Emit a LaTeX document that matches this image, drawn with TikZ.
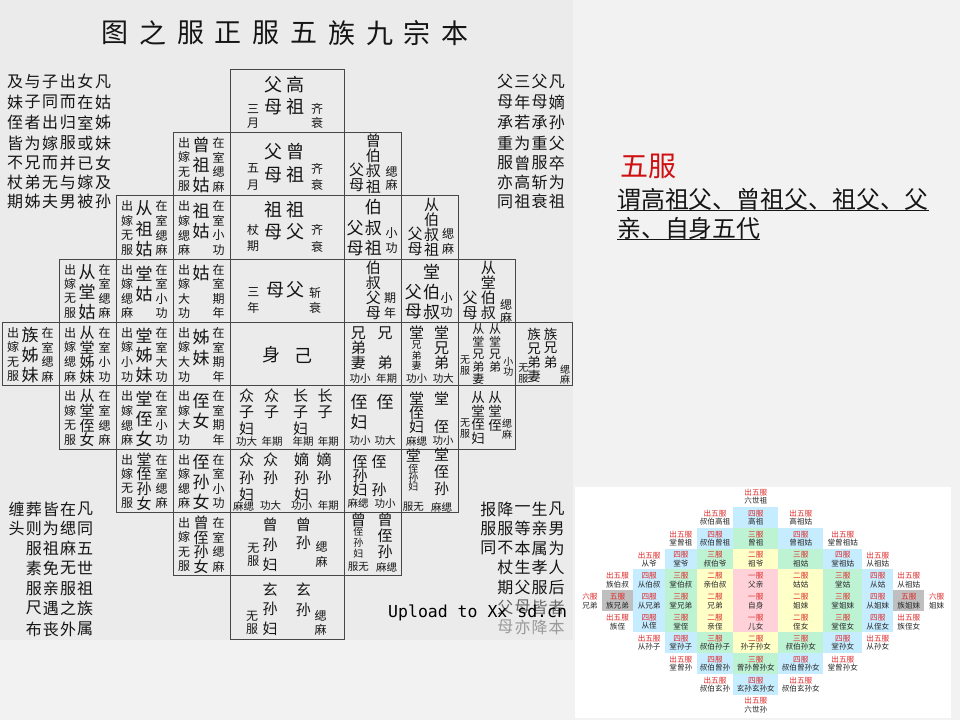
\documentclass[tikz,border=0pt]{standalone}
\usepackage{fontspec}
\setmainfont{Noto Sans CJK SC}
\newfontfamily\wmfont{DejaVu Sans Mono}
\definecolor{pagebg}{HTML}{F2F2F2}
\definecolor{imgbg}{HTML}{EBEBEB}
\definecolor{ink}{HTML}{151515}
\definecolor{cpink}{HTML}{FFD2DA}
\definecolor{cyel}{HTML}{FFFFC8}
\definecolor{cgrn}{HTML}{BDF2D3}
\definecolor{cblu}{HTML}{C6ECFF}
\definecolor{cgry}{HTML}{BFBFBF}
\definecolor{cred}{HTML}{E02828}
\definecolor{wuf}{HTML}{D01010}
\makeatletter
\newcommand\seqn[6]{\tikzset{curst/.style={#5}}\def\sqx{#1}\def\sqy{#2}\def\sqdx{#3}\def\sqdy{#4}\sq@loop#6\@nil}
\def\sq@loop#1#2\@nil{\node[curst] at (\sqx,\sqy) {#1};\pgfmathsetmacro\sqx{\sqx+\sqdx}\pgfmathsetmacro\sqy{\sqy+\sqdy}\ifx\relax#2\relax\expandafter\@gobble\else\expandafter\@firstofone\fi{\sq@loop#2\@nil}}
\makeatother
\newcommand\vcol[5]{\seqn{#1}{#2}{0}{#3}{#4}{#5}}
\newcommand\hcol[5]{\seqn{#1}{#2}{#3}{0}{#4}{#5}}
\newcommand\fcell[6]{%
 \draw[cellbox] (#1,#2) rectangle ++(57,63.33);
 \vcol{#1+11}{#2+10.5}{14.6}{chs}{#3}%
 \vcol{#1+45.5}{#2+10.5}{14.6}{chs}{#5}%
 \ifcase#6\or
 \vcol{#1+28}{#2+14.5}{0}{chb}{#4}\or
 \vcol{#1+28}{#2+15}{20.5}{chb}{#4}\or
 \vcol{#1+28}{#2+13}{20}{chb}{#4}\or
 \vcol{#1+28}{#2+10.5}{14.6}{chm}{#4}\fi}
\def\scb{{578,601.7,633.3,665,696.7,733.3,778.3,823.3,862.3,893.3,924.3,949}}
\newcommand\scell[5]{%
 \pgfmathsetmacro\scl{\scb[#1]}\pgfmathsetmacro\scr{\scb[#1+1]}\pgfmathsetmacro\sct{486+20.85*#2}%
 \path[fill=#3] (\scl,\sct) rectangle (\scr,\sct+20.85);
 \node[scred] at ({(\scl+\scr)/2},\sct+6.6) {#4};
 \node[scblk] at ({(\scl+\scr)/2},\sct+15) {#5};}
\tikzset{
 cellbox/.style={draw=black!72, line width=0.9pt},
 chs/.style={font=\fontsize{12}{12}\selectfont, inner sep=0, text=ink},
 chx/.style={font=\fontsize{10}{10}\selectfont, inner sep=0, text=ink},
 chl/.style={font=\fontsize{10.5}{10.5}\selectfont, inner sep=0, text=ink},
 chk/.style={font=\fontsize{13.5}{13.5}\selectfont, inner sep=0, text=ink},
 chm/.style={font=\fontsize{15}{15}\selectfont, inner sep=0, text=ink},
 chb/.style={font=\fontsize{17}{17}\selectfont, inner sep=0, text=ink},
 chc/.style={font=\fontsize{18}{18}\selectfont, inner sep=0, text=ink},
 blk/.style={font=\fontsize{16}{16}\selectfont, inner sep=0, text=ink},
 ttl/.style={font=\fontsize{27}{27}\selectfont, inner sep=0, text=ink},
 scred/.style={font=\fontsize{7.6}{8}\selectfont, inner sep=0, text=cred},
 scblk/.style={font=\fontsize{7.6}{8}\selectfont, inner sep=0, text=black!85},
}
\begin{document}
\begin{tikzpicture}[x=1pt,y=-1pt]
\useasboundingbox (0,0) rectangle (960,720);
\fill[pagebg] (0,0) rectangle (960,720);
\fill[imgbg] (0,0) rectangle (573,640);
% title
\hcol{115}{33}{37.8}{ttl}{图之服正服五族九宗本}
% side text blocks
\hcol{15}{81.7}{17.6}{blk}{及与子出女凡}
\hcol{15}{102.3}{17.6}{blk}{妹子同而在姑}
\hcol{15}{122.9}{17.6}{blk}{侄者出归室姊}
\hcol{15}{143.2}{17.6}{blk}{皆为嫁服或妹}
\hcol{15}{163.2}{17.6}{blk}{不兄而并已女}
\hcol{15}{182.7}{17.6}{blk}{杖弟无与嫁及}
\hcol{15}{201.8}{17.6}{blk}{期姊夫男被孙}
\hcol{505}{81.7}{17.3}{blk}{父三父凡}
\hcol{505}{102.3}{17.3}{blk}{母年母嫡}
\hcol{505}{122.9}{17.3}{blk}{承若承孙}
\hcol{505}{143.2}{17.3}{blk}{重为重父}
\hcol{505}{163.2}{17.3}{blk}{服曾服卒}
\hcol{505}{182.7}{17.3}{blk}{亦高斩为}
\hcol{505}{201.8}{17.3}{blk}{同祖衰祖}
\hcol{16.7}{509}{17.1}{blk}{缠葬皆在凡}
\hcol{16.7}{528.5}{17.1}{blk}{头则为缌同}
\hcol{33.8}{548.3}{17.1}{blk}{服祖麻五}
\hcol{33.8}{568.3}{17.1}{blk}{素免无世}
\hcol{33.8}{588.3}{17.1}{blk}{服亲服祖}
\hcol{33.8}{608.3}{17.1}{blk}{尺遇之族}
\hcol{33.8}{629}{17.1}{blk}{布丧外属}
\hcol{488.3}{509}{17.1}{blk}{报降一生凡}
\hcol{488.3}{528.5}{17.1}{blk}{服服等亲男}
\hcol{488.3}{548.3}{17.1}{blk}{同不本属为}
\hcol{505.4}{567.5}{17.1}{blk}{杖生孝人}
\hcol{505.4}{587.3}{17.1}{blk}{期父服后}
\hcol{505.4}{607.3}{17.1}{blk,text=black!60}{父母皆者}
\hcol{505.4}{627.3}{17.1}{blk,text=black!40}{母亦降本}
% center column
\foreach \yy in {69,132.33,195.67,259,322.33,385.67,449,512.33,575.67}
  \draw[cellbox] (230,\yy) rectangle ++(114,63.33);
\vcol{273}{85}{21.7}{chc}{父母}
\vcol{295}{85}{21.7}{chc}{高祖}
\vcol{253}{109.3}{14}{chs}{三月}
\vcol{317}{109.3}{14}{chs}{齐衰}
\vcol{273}{152}{23}{chc}{父母}
\vcol{295}{152}{23}{chc}{曾祖}
\vcol{253}{168.3}{16.7}{chs}{五月}
\vcol{317}{169}{16}{chs}{齐衰}
\vcol{273}{210}{22}{chc}{祖母}
\vcol{295}{210}{22}{chc}{祖父}
\vcol{253}{230}{16.5}{chs}{杖期}
\vcol{317}{230}{16.5}{chs}{齐衰}
\vcol{253.3}{291.7}{16.6}{chs}{三年}
\node[chc] at (275,290.5) {母};
\node[chc] at (295,289.5) {父};
\vcol{315}{292.5}{15.8}{chs}{斩衰}
\node[chc] at (271.7,355) {身};
\node[chc] at (303.3,356) {己};
\vcol{246.7}{395.5}{16.4}{chm}{众子妇}
\vcol{271.7}{395.5}{16.4}{chm}{众子}
\vcol{300.5}{395.5}{16.4}{chm}{长子妇}
\vcol{325}{395.5}{16.4}{chm}{长子}
\node[chl] at (246.7,442) {功大};
\node[chl] at (272,442) {年期};
\node[chl] at (303,442) {年期};
\node[chl] at (328.3,442) {年期};
\vcol{246.7}{460}{17.5}{chm}{众孙妇}
\vcol{270.5}{460}{17.5}{chm}{众孙}
\vcol{301.7}{460}{17.5}{chm}{嫡孙妇}
\vcol{324}{460}{17.5}{chm}{嫡孙}
\node[chl] at (243.5,506) {麻缌};
\node[chl] at (270.5,506) {功大};
\node[chl] at (301.7,506) {功小};
\node[chl] at (328.3,506) {年期};
\vcol{270}{525}{20}{chm}{曾孙妇}
\vcol{253.3}{548.3}{12.5}{chs}{无服}
\vcol{303.3}{525}{18.3}{chm}{曾孙}
\vcol{321.7}{547}{14.5}{chs}{缌麻}
\vcol{270}{590}{19.2}{chm}{玄孙妇}
\vcol{252}{616.7}{12}{chs}{无服}
\vcol{303.3}{590}{20}{chm}{玄孙}
\vcol{320.5}{615.5}{14.5}{chs}{缌麻}
% female side cells
\fcell{173}{132.33}{出嫁无服}{曾祖姑}{在室缌麻}{3}
\fcell{116}{195.67}{出嫁无服}{从祖姑}{在室缌麻}{3}
\fcell{173}{195.67}{出嫁缌麻}{祖姑}{在室小功}{2}
\fcell{59}{259}{出嫁无服}{从堂姑}{在室缌麻}{3}
\fcell{116}{259}{出嫁缌麻}{堂姑}{在室小功}{2}
\fcell{173}{259}{出嫁大功}{姑}{在室期年}{1}
\fcell{2}{322.33}{出嫁无服}{族姊妹}{在室缌麻}{3}
\fcell{59}{322.33}{出嫁缌麻}{从堂姊妹}{在室小功}{4}
\fcell{116}{322.33}{出嫁小功}{堂姊妹}{在室大功}{3}
\fcell{173}{322.33}{出嫁大功}{姊妹}{在室期年}{2}
\fcell{59}{385.67}{出嫁无服}{从堂侄女}{在室缌麻}{4}
\fcell{116}{385.67}{出嫁缌麻}{堂侄女}{在室小功}{3}
\fcell{173}{385.67}{出嫁大功}{侄女}{在室期年}{2}
\fcell{116}{449}{出嫁无服}{堂侄孙女}{在室缌麻}{4}
\fcell{173}{449}{出嫁缌麻}{侄孙女}{在室小功}{3}
\fcell{173}{512.33}{出嫁无服}{曾侄孙女}{在室缌麻}{4}
% male side cells
\foreach \xx/\yy in {344/132.33,344/195.67,401/195.67,344/259,401/259,458/259,344/322.33,401/322.33,458/322.33,515/322.33,344/385.67,401/385.67,458/385.67,344/449,401/449,344/512.33}
  \draw[cellbox] (\xx,\yy) rectangle ++(57,63.33);
\vcol{373.3}{140.5}{15.4}{chm}{曾伯叔祖}
\vcol{356.7}{170}{15}{chm}{父母}
\vcol{391.7}{171.7}{13.5}{chs}{缌麻}
\vcol{373.3}{207}{20.7}{chb}{伯叔祖}
\vcol{355}{228.3}{20}{chb}{父母}
\vcol{391.7}{233.3}{15}{chs}{小功}
\vcol{431.7}{204.5}{15}{chm}{从伯叔祖}
\vcol{415}{234}{15}{chm}{父母}
\vcol{448}{234}{14.5}{chs}{缌麻}
\vcol{373.3}{268}{15}{chm}{伯叔父母}
\vcol{390}{298}{15}{chs}{期年}
\vcol{431.7}{271.7}{20}{chb}{堂伯叔}
\vcol{413.3}{291.7}{20}{chb}{父母}
\vcol{446.7}{298}{13.7}{chs}{小功}
\vcol{488.3}{268}{15}{chm}{从堂伯叔}
\vcol{470}{298}{15}{chm}{父母}
\vcol{506}{305}{12.5}{chs}{缌麻}
\vcol{358.3}{333}{15}{chm}{兄弟妻}
\vcol{385}{333}{30}{chm}{兄弟}
\node[chl] at (360,379) {功小};
\node[chl] at (386.7,379) {年期};
\node[chm] at (416.7,333) {堂};
\vcol{416.7}{344.5}{10.8}{chx}{兄弟妻}
\vcol{441.7}{333}{15}{chm}{堂兄弟}
\node[chl] at (416.7,379) {功小};
\node[chl] at (443.3,379) {功大};
\vcol{478.3}{329.5}{12.4}{chs}{从堂兄弟妻}
\vcol{495}{329.5}{12.4}{chs}{从堂兄弟}
\vcol{465}{360.5}{10.5}{chx}{无服}
\vcol{508.3}{361.7}{10}{chx}{小功}
\vcol{534}{334.5}{14}{chk}{族兄弟妻}
\vcol{550.5}{334.5}{13.7}{chk}{族兄弟}
\vcol{523.3}{368.5}{10}{chx}{无服}
\vcol{565}{370}{10}{chx}{缌麻}
\vcol{359}{402}{19.5}{chb}{侄妇}
\node[chb] at (385,402) {侄};
\node[chl] at (360,441) {功小};
\node[chl] at (385,441) {功大};
\vcol{416.7}{398.3}{14.2}{chm}{堂侄妇}
\node[chm] at (441.7,398.3) {堂};
\node[chm] at (441.7,426.7) {侄};
\node[chl] at (416.7,441) {麻缌};
\node[chl] at (443,441) {功小};
\vcol{478}{397}{13.9}{chk}{从堂侄妇}
\vcol{495}{397}{14}{chk}{从堂侄}
\vcol{465}{423.3}{10.5}{chx}{无服}
\vcol{507}{423.3}{11}{chx}{缌麻}
\vcol{360}{461.7}{14.2}{chm}{侄孙妇}
\node[chm] at (379,461.7) {侄};
\node[chm] at (379,490) {孙};
\node[chl] at (358,503.5) {麻缌};
\node[chl] at (385,503.5) {功小};
\node[chm] at (413.3,455.5) {堂};
\vcol{413.3}{468.3}{9.3}{chx}{侄孙妇}
\vcol{441.7}{455}{16.7}{chm}{堂侄孙}
\node[chl] at (413.3,507) {服无};
\node[chl] at (441.7,507) {麻缌};
\node[chm] at (358.3,520) {曾};
\vcol{358.3}{532}{10.7}{chx}{侄孙妇}
\node[chl] at (358.3,567) {服无};
\vcol{385}{520}{16}{chm}{曾侄孙}
\node[chl] at (386.7,567) {麻缌};
% watermark
\node[font=\wmfont\fontsize{16.5}{17}\selectfont, anchor=west, inner sep=0, text=black] (wm) at (388,613) {Upload to Xx sd.cn};
% right text
\node[font=\fontsize{28}{28}\selectfont, text=wuf, inner sep=0] (wufu) at (648,166) {五服};
\node[font=\fontsize{23.9}{24}\selectfont, text=ink, inner sep=0, anchor=west] (la) at (617,199) {谓高祖父、曾祖父、祖父、父};
\node[font=\fontsize{23.9}{24}\selectfont, text=ink, inner sep=0, anchor=west] (lb) at (617,228.5) {亲、自身五代};
\draw[ink, line width=0.9pt] (617,210.5) -- (929,210.5);
\draw[ink, line width=0.9pt] (617,239.5) -- (760,239.5);
% small chart
\fill[white] (575,487) rectangle (951,718);
\scell{5}{0}{none}{出五服}{六世祖}
\scell{4}{1}{none}{出五服}{叔伯高祖}
\scell{5}{1}{cblu}{四服}{高祖}
\scell{6}{1}{none}{出五服}{高祖姑}
\scell{3}{2}{none}{出五服}{堂曾祖}
\scell{4}{2}{cblu}{四服}{叔伯曾祖}
\scell{5}{2}{cgrn}{三服}{曾祖}
\scell{6}{2}{cblu}{四服}{曾祖姑}
\scell{7}{2}{none}{出五服}{堂曾祖姑}
\scell{2}{3}{none}{出五服}{从爷}
\scell{3}{3}{cblu}{四服}{堂爷}
\scell{4}{3}{cgrn}{三服}{叔伯爷}
\scell{5}{3}{cyel}{二服}{祖爷}
\scell{6}{3}{cgrn}{三服}{祖姑}
\scell{7}{3}{cblu}{四服}{堂祖姑}
\scell{8}{3}{none}{出五服}{从祖姑}
\scell{1}{4}{none}{出五服}{族伯叔}
\scell{2}{4}{cblu}{四服}{从伯叔}
\scell{3}{4}{cgrn}{三服}{堂伯叔}
\scell{4}{4}{cyel}{二服}{亲伯叔}
\scell{5}{4}{cpink}{一服}{父亲}
\scell{6}{4}{cyel}{二服}{姑姑}
\scell{7}{4}{cgrn}{三服}{堂姑}
\scell{8}{4}{cblu}{四服}{从姑}
\scell{9}{4}{none}{出五服}{从祖姑}
\scell{0}{5}{none}{六服}{兄弟}
\scell{1}{5}{cgry}{五服}{族兄弟}
\scell{2}{5}{cblu}{四服}{从兄弟}
\scell{3}{5}{cgrn}{三服}{堂兄弟}
\scell{4}{5}{cyel}{二服}{兄弟}
\scell{5}{5}{cpink}{一服}{自身}
\scell{6}{5}{cyel}{二服}{姐妹}
\scell{7}{5}{cgrn}{三服}{堂姐妹}
\scell{8}{5}{cblu}{四服}{从姐妹}
\scell{9}{5}{cgry}{五服}{族姐妹}
\scell{10}{5}{none}{六服}{姐妹}
\scell{1}{6}{none}{出五服}{族侄}
\scell{2}{6}{cblu}{四服}{从侄}
\scell{3}{6}{cgrn}{三服}{堂侄}
\scell{4}{6}{cyel}{二服}{亲侄}
\scell{5}{6}{cpink}{一服}{儿女}
\scell{6}{6}{cyel}{二服}{侄女}
\scell{7}{6}{cgrn}{三服}{堂侄女}
\scell{8}{6}{cblu}{四服}{从侄女}
\scell{9}{6}{none}{出五服}{族侄女}
\scell{2}{7}{none}{出五服}{从孙子}
\scell{3}{7}{cblu}{四服}{堂孙子}
\scell{4}{7}{cgrn}{三服}{叔伯孙子}
\scell{5}{7}{cyel}{二服}{孙子孙女}
\scell{6}{7}{cgrn}{三服}{叔伯孙女}
\scell{7}{7}{cblu}{四服}{堂孙女}
\scell{8}{7}{none}{出五服}{从孙女}
\scell{3}{8}{none}{出五服}{堂曾孙}
\scell{4}{8}{cblu}{四服}{叔伯曾孙}
\scell{5}{8}{cgrn}{三服}{曾孙曾孙女}
\scell{6}{8}{cblu}{四服}{叔伯曾孙女}
\scell{7}{8}{none}{出五服}{堂曾孙女}
\scell{4}{9}{none}{出五服}{叔伯玄孙}
\scell{5}{9}{cblu}{四服}{玄孙玄孙女}
\scell{6}{9}{none}{出五服}{叔伯玄孙女}
\scell{5}{10}{none}{出五服}{六世孙}
\end{tikzpicture}
\end{document}
